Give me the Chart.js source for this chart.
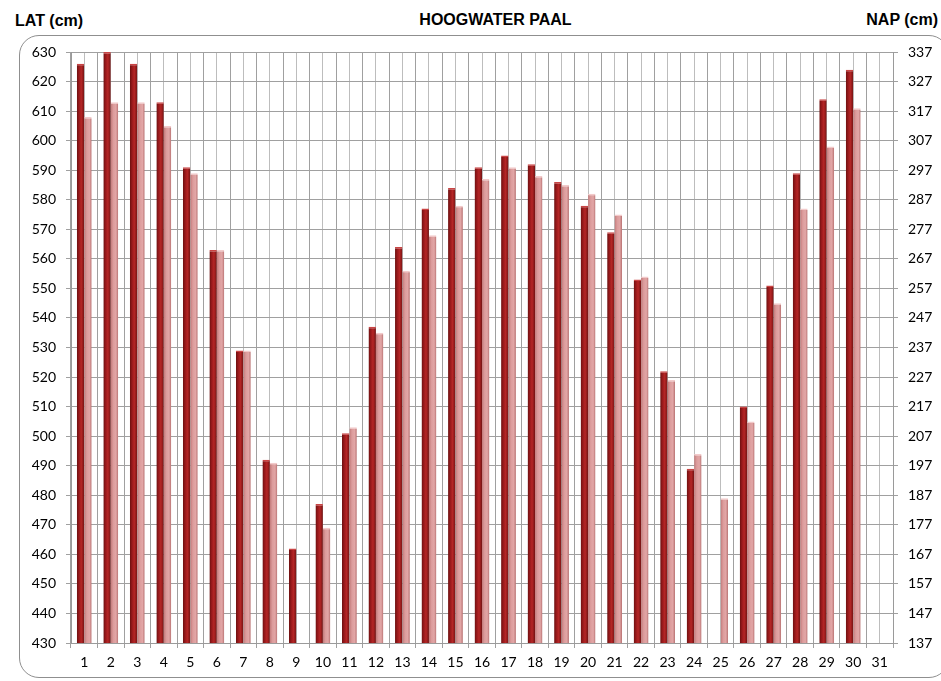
<!DOCTYPE html>
<html>
<head>
<meta charset="utf-8">
<script src="https://cdn.jsdelivr.net/npm/chart.js@4/dist/chart.umd.min.js"></script>
<style>
  html, body { margin: 0; padding: 0; background: #ffffff; }
  #wrap { position: relative; width: 941px; height: 681px; overflow: hidden; }
  #frame {
    position: absolute; left: 19px; top: 35px; width: 930px; height: 643px;
    border: 1.5px solid #8f8f8f; border-radius: 20px; box-sizing: border-box;
  }
  .ttl { position: absolute; font-family: "Liberation Sans", Arial, sans-serif; font-weight: bold;
         font-size: 16px; color: #000; white-space: nowrap; line-height: 16px; }
  #c { position: absolute; left: 0; top: 0; }
</style>
</head>
<body>
<div id="wrap">
  <div id="frame"></div>
  <div class="ttl" style="left:15px; top:13px;">LAT (cm)</div>
  <div class="ttl" style="left:0; width:991px; text-align:center; top:12px;">HOOGWATER PAAL</div>
  <div class="ttl" style="right:3px; top:12px;">NAP (cm)</div>
  <canvas id="c" width="941" height="681"></canvas>
</div>
<script>
// Days of the month
const days = ['1','2','3','4','5','6','7','8','9','10','11','12','13','14','15','16',
              '17','18','19','20','21','22','23','24','25','26','27','28','29','30','31'];

// High water levels relative to LAT (cm)
const highWaterA = [626, 630, 626, 613, 591, 563, 529, 492, 462, 477, 501, 537, 564, 577, 584, 591,
                    595, 592, 586, 578, 569, 553, 522, 489, 430, 510, 551, 589, 614, 624, 430];
const highWaterB = [608, 613, 613, 605, 589, 563, 529, 491, 430, 469, 503, 535, 556, 568, 578, 587,
                    591, 588, 585, 582, 575, 554, 519, 494, 479, 505, 545, 577, 598, 611, 430];

// Axis ranges: LAT on the left, NAP on the right (NAP = LAT - 293)
const latMin = 430;
const latMax = 630;
const latStep = 10;
const napOffset = 293;

const catPct = 0.56;

const darkStops = [[0, '#6a1010'], [0.3, '#98191b'], [0.6, '#b52626'], [0.85, '#8e1a1a'], [1, '#6e1212']];
const lightStops = [[0, '#c27a7a'], [0.35, '#dc9c9c'], [0.7, '#e2a6a6'], [1, '#b77070']];

function barFill(ctx, stops, side) {
  const chart = ctx.chart;
  const xs = chart.scales.x;
  if (!chart.chartArea || !xs || ctx.dataIndex === undefined) return stops[2][1];
  const center = xs.getPixelForValue(ctx.dataIndex);
  const bw = (xs.width / days.length) * catPct / 2;
  const left = side < 0 ? center - bw : center;
  const g = chart.ctx.createLinearGradient(left, 0, left + bw, 0);
  stops.forEach(s => g.addColorStop(s[0], s[1]));
  return g;
}

const tickFont = { family: 'Lato, "Open Sans", sans-serif', size: 14 };

new Chart(document.getElementById('c'), {
  type: 'bar',
  data: {
    labels: days,
    datasets: [
      {
        label: 'Hoogwater A',
        data: highWaterA,
        backgroundColor: ctx => barFill(ctx, darkStops, -1),
        borderColor: '#c94545',
        borderWidth: { top: 1.5, left: 0, right: 0, bottom: 0 },
        borderSkipped: 'bottom',
        categoryPercentage: catPct,
        barPercentage: 1.0,
        yAxisID: 'y'
      },
      {
        label: 'Hoogwater B',
        data: highWaterB,
        backgroundColor: ctx => barFill(ctx, lightStops, 1),
        borderColor: '#f2caca',
        borderWidth: { top: 1.5, left: 0, right: 0, bottom: 0 },
        borderSkipped: 'bottom',
        categoryPercentage: catPct,
        barPercentage: 1.0,
        yAxisID: 'y'
      }
    ]
  },
  options: {
    responsive: false,
    animation: false,
    layout: { padding: { top: 52, left: 0, right: 0, bottom: 0 } },
    plugins: {
      legend: { display: false },
      tooltip: { enabled: false },
      title: { display: false }
    },
    scales: {
      x: {
        type: 'category',
        position: 'bottom',
        offset: true,
        grid: { offset: true, color: '#a0a0a0', lineWidth: 1, tickLength: 5, drawTicks: true },
        border: { color: '#9a9a9a' },
        ticks: { color: '#000', font: tickFont, padding: 6, maxRotation: 0, autoSkip: false },
        afterFit: s => { s.height = 38; }
      },
      xc: {
        type: 'category',
        position: 'top',
        offset: true,
        grid: { offset: false, color: '#bdbdbd', lineWidth: 1, drawTicks: false },
        border: { display: false },
        ticks: { display: false },
        afterFit: s => { s.height = 0; }
      },
      y: {
        type: 'linear',
        position: 'left',
        min: latMin,
        max: latMax,
        ticks: { stepSize: latStep, color: '#000', font: tickFont, padding: 10 },
        grid: { color: '#a0a0a0', lineWidth: 1, tickLength: 5 },
        border: { color: '#9a9a9a' },
        afterFit: s => { s.width = 71; }
      },
      y2: {
        type: 'linear',
        position: 'right',
        min: latMin - napOffset,
        max: latMax - napOffset,
        ticks: { stepSize: latStep, color: '#000', font: tickFont, padding: 10 },
        grid: { drawOnChartArea: false, color: '#a0a0a0', tickLength: 5 },
        border: { color: '#9a9a9a' },
        afterFit: s => { s.width = 48; }
      }
    }
  }
});
</script>
</body>
</html>
